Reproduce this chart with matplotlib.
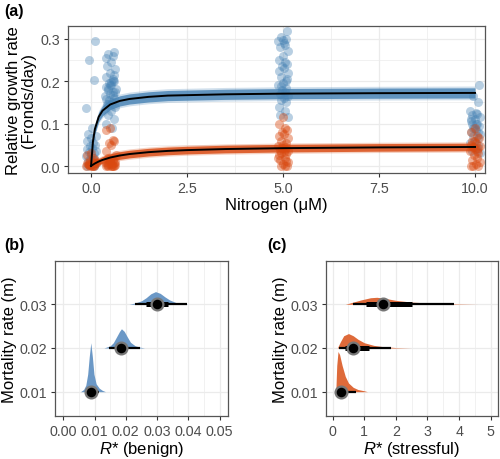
import numpy as np
import matplotlib.pyplot as plt

plt.rcParams['font.family'] = ['Liberation Sans', 'DejaVu Sans']
plt.rcParams['mathtext.fontset'] = 'custom'
plt.rcParams['mathtext.it'] = 'Liberation Sans:italic'
plt.rcParams['mathtext.rm'] = 'Liberation Sans'

# ---------------- data: panel (a) ----------------
nitrogen_levels = [0.0, 0.5, 5.0, 10.0]
jitter = [0.10, -0.05, 0.08, -0.12, 0.02, -0.08, 0.12, 0.0, -0.10, 0.06,
          0.11, -0.03, 0.03, -0.11, 0.14, -0.06, 0.07, 0.0, -0.13, 0.09,
          -0.02, 0.05, -0.09, 0.13, 0.02, -0.05, 0.09, -0.11, 0.04, -0.07,
          0.12, -0.01, 0.06]

blue_y = {
    0.0: [0.295, 0.25, 0.202, 0.137, 0.09, 0.075, 0.07, 0.065, 0.06, 0.055,
          0.05, 0.047, 0.043, 0.04, 0.036, 0.033, 0.03, 0.027, 0.024, 0.02,
          0.017, 0.014, 0.011, 0.008, 0.005, 0.003, 0.001, 0.0],
    0.5: [0.268, 0.265, 0.26, 0.255, 0.245, 0.235, 0.228, 0.22, 0.21, 0.205,
          0.2, 0.195, 0.19, 0.186, 0.182, 0.178, 0.174, 0.17, 0.165, 0.16,
          0.155, 0.15, 0.145, 0.14, 0.13, 0.12, 0.11, 0.1, 0.09, 0.145,
          0.175, 0.19, 0.2, 0.215, 0.185, 0.168, 0.158, 0.198],
    5.0: [0.318, 0.305, 0.3, 0.295, 0.29, 0.28, 0.27, 0.26, 0.25, 0.245,
          0.24, 0.235, 0.23, 0.225, 0.22, 0.21, 0.2, 0.195, 0.19, 0.185,
          0.18, 0.175, 0.17, 0.165, 0.16, 0.155, 0.15, 0.14, 0.13, 0.12,
          0.115, 0.298, 0.285, 0.205, 0.188],
    10.0: [0.19, 0.165, 0.15, 0.13, 0.125, 0.12, 0.115, 0.11, 0.105, 0.1,
           0.095, 0.09, 0.085, 0.08, 0.075, 0.07, 0.065, 0.06, 0.055, 0.05,
           0.045, 0.04, 0.035, 0.03, 0.1, 0.09, 0.08, 0.11, 0.122, 0.098],
}
red_y = {
    0.0: [0.03, 0.025, 0.02, 0.015, 0.012, 0.01, 0.008, 0.006, 0.004, 0.003,
          0.002, 0.001, 0.0, 0.0, 0.0, 0.005, 0.01, 0.0, 0.002, 0.007],
    0.5: [0.09, 0.085, 0.062, 0.058, 0.055, 0.05, 0.035, 0.025, 0.02, 0.015,
          0.012, 0.01, 0.008, 0.006, 0.004, 0.003, 0.002, 0.001, 0.0, 0.0,
          0.0, 0.0, 0.005, 0.01, 0.015, 0.0],
    5.0: [0.115, 0.1, 0.09, 0.085, 0.08, 0.075, 0.07, 0.065, 0.06, 0.055,
          0.05, 0.048, 0.045, 0.042, 0.04, 0.038, 0.035, 0.032, 0.03, 0.028,
          0.025, 0.02, 0.015, 0.01, 0.005, 0.0, 0.0, 0.0, 0.012, 0.02],
    10.0: [0.09, 0.08, 0.07, 0.065, 0.06, 0.055, 0.05, 0.048, 0.045, 0.042,
           0.04, 0.035, 0.03, 0.025, 0.02, 0.015, 0.01, 0.005, 0.0, 0.0,
           0.0, 0.035, 0.06],
}

# fitted curves
curve_x = [0, 0.05, 0.1, 0.2, 0.3, 0.5, 0.75, 1, 1.5, 2, 2.5, 3.5, 5, 7.5, 10]
blue_fit = [0, 0.058, 0.087, 0.116, 0.1305, 0.145, 0.1535, 0.158, 0.163,
            0.166, 0.167, 0.169, 0.1706, 0.1717, 0.1723]
red_fit = [0, 0.0032, 0.006, 0.0107, 0.0144, 0.02, 0.0248, 0.0282, 0.0327,
           0.0356, 0.0375, 0.04, 0.0421, 0.0439, 0.0449]
blue_band = [0.004, 0.008, 0.01, 0.011, 0.012, 0.012, 0.012, 0.012, 0.012,
             0.012, 0.012, 0.012, 0.012, 0.012, 0.012]
red_band = [0.003, 0.005, 0.006, 0.007, 0.008, 0.009, 0.009, 0.009, 0.009,
            0.009, 0.009, 0.009, 0.009, 0.009, 0.009]

# ---------------- data: panels (b) and (c) ----------------
mortality = [0.01, 0.02, 0.03]

benign_x = [
    [0.0055, 0.0065, 0.0072, 0.0078, 0.0083, 0.0088, 0.0093, 0.0098, 0.0105, 0.0115, 0.0125, 0.0135],
    [0.013, 0.015, 0.016, 0.017, 0.018, 0.0186, 0.0195, 0.0205, 0.0215, 0.023, 0.0245, 0.026],
    [0.021, 0.023, 0.025, 0.0265, 0.028, 0.0295, 0.031, 0.0325, 0.034, 0.036, 0.038, 0.040],
]
benign_h = [
    [0, 0.0005, 0.0015, 0.004, 0.008, 0.0112, 0.008, 0.004, 0.0018, 0.0008, 0.0003, 0],
    [0, 0.0005, 0.0012, 0.0025, 0.0038, 0.0044, 0.0038, 0.0025, 0.0013, 0.0005, 0.0002, 0],
    [0, 0.0003, 0.0008, 0.0015, 0.0024, 0.0029, 0.0025, 0.0017, 0.001, 0.0004, 0.0002, 0],
]
benign_med = [0.0088, 0.0186, 0.030]
benign_66 = [[0.0080, 0.0098], [0.0170, 0.0205], [0.0265, 0.0335]]
benign_95 = [[0.0070, 0.0115], [0.0145, 0.0245], [0.0230, 0.0395]]

stress_x = [
    [0.1, 0.13, 0.17, 0.22, 0.3, 0.4, 0.5, 0.65, 0.8, 1.0, 1.1],
    [0.15, 0.25, 0.35, 0.5, 0.65, 0.8, 1.0, 1.3, 1.6, 2.0, 2.5],
    [0.4, 0.6, 0.9, 1.2, 1.4, 1.7, 2.0, 2.5, 3.0, 3.8, 4.6],
]
stress_h = [
    [0, 0.006, 0.0092, 0.0085, 0.006, 0.0035, 0.002, 0.001, 0.0005, 0.0002, 0],
    [0, 0.0015, 0.0028, 0.0033, 0.0028, 0.002, 0.0012, 0.0006, 0.0003, 0.0001, 0],
    [0, 0.0004, 0.001, 0.0015, 0.0016, 0.0013, 0.0009, 0.0005, 0.0003, 0.0001, 0],
]
stress_med = [0.25, 0.65, 1.6]
stress_66 = [[0.15, 0.45], [0.40, 1.15], [1.05, 2.5]]
stress_95 = [[0.12, 0.75], [0.20, 1.85], [0.65, 3.85]]

blue = '#4682b4'
red = '#d9480f'
blue_dens = '#6b98c6'
red_dens = '#de6a3a'
grid_col = '#ebebeb'
tick_col = '#4d4d4d'


def style_axes(ax):
    ax.set_axisbelow(True)
    ax.grid(True, which='major', color=grid_col, lw=0.9)
    ax.grid(True, which='minor', color=grid_col, lw=0.5)
    for s in ax.spines.values():
        s.set_color('#555555')
        s.set_linewidth(0.9)
    ax.tick_params(which='major', colors='#333333', labelcolor=tick_col,
                   labelsize=10.3, length=3, width=0.8, pad=2.5)
    ax.tick_params(which='minor', length=0)


fig = plt.figure(figsize=(5, 4.6), dpi=100)

# ---------------- (a) ----------------
ax1 = fig.add_axes([0.136, 0.6217, 0.834, 0.3196])
for lvl in nitrogen_levels:
    yb = blue_y[lvl]
    xb = [lvl + jitter[i % len(jitter)] for i in range(len(yb))]
    ax1.scatter(xb, yb, s=42, color=blue, alpha=0.38, lw=0, zorder=2)
for lvl in nitrogen_levels:
    yr = red_y[lvl]
    xr = [lvl + jitter[(i + 7) % len(jitter)] for i in range(len(yr))]
    ax1.scatter(xr, yr, s=42, color=red, alpha=0.42, lw=0, zorder=2)

cx = np.array(curve_x)
for fit, band, col in [(blue_fit, blue_band, blue), (red_fit, red_band, red)]:
    f = np.array(fit)
    b = np.array(band)
    ax1.fill_between(cx, f - 1.35 * b, f + 1.35 * b, color=col, alpha=0.25, lw=0, zorder=3)
    ax1.fill_between(cx, f - b, f + b, color=col, alpha=0.8, lw=0, zorder=3)
    ax1.plot(cx, f, color='black', lw=1.4, zorder=4)

ax1.set_xlim(-0.6, 10.26)
ax1.set_ylim(-0.0165, 0.33)
ax1.set_xticks([0, 2.5, 5, 7.5, 10])
ax1.set_xticklabels(['0.0', '2.5', '5.0', '7.5', '10.0'])
ax1.set_xticks([1.25, 3.75, 6.25, 8.75], minor=True)
ax1.set_yticks([0, 0.1, 0.2, 0.3])
ax1.set_yticklabels(['0.0', '0.1', '0.2', '0.3'])
ax1.set_yticks([0.05, 0.15, 0.25], minor=True)
style_axes(ax1)
ax1.set_xlabel('Nitrogen (μM)', fontsize=12, labelpad=1.5)
ax1.set_ylabel('Relative growth rate\n(Fronds/day)', fontsize=12, labelpad=3,
               linespacing=1.0)
fig.text(0.008, 0.975, '(a)', fontsize=11.5, fontweight='bold', va='center')


def ridge(ax, xs, hs, meds, i66, i95, col):
    for k, m in enumerate(mortality):
        ax.fill_between(xs[k], m, m + np.array(hs[k]), color=col, lw=0, zorder=3)
        ax.plot(i95[k], [m, m], color='black', lw=1.6, solid_capstyle='butt', zorder=4)
        ax.plot(i66[k], [m, m], color='black', lw=3.6, solid_capstyle='butt', zorder=4)
        ax.plot(meds[k], m, 'o', color='black', ms=8.5, mec='#777777', mew=1.6, zorder=5)


# ---------------- (b) ----------------
ax2 = fig.add_axes([0.11, 0.0935, 0.346, 0.3369])
ridge(ax2, benign_x, benign_h, benign_med, benign_66, benign_95, blue_dens)
ax2.set_xlim(-0.00266, 0.0527)
ax2.set_ylim(0.00444, 0.0399)
ax2.set_xticks([0, 0.01, 0.02, 0.03, 0.04, 0.05])
ax2.set_xticklabels(['0.00', '0.01', '0.02', '0.03', '0.04', '0.05'])
ax2.set_xticks([0.005, 0.015, 0.025, 0.035, 0.045], minor=True)
ax2.set_yticks(mortality)
ax2.set_yticklabels(['0.01', '0.02', '0.03'])
style_axes(ax2)
ax2.set_xlabel('$R$* (benign)', fontsize=12, labelpad=1)
ax2.set_ylabel('Mortality rate (m)', fontsize=12, labelpad=2)
fig.text(0.008, 0.467, '(b)', fontsize=11.5, fontweight='bold', va='center')

# ---------------- (c) ----------------
ax3 = fig.add_axes([0.652, 0.0935, 0.344, 0.3369])
ridge(ax3, stress_x, stress_h, stress_med, stress_66, stress_95, red_dens)
ax3.set_xlim(-0.21, 5.23)
ax3.set_ylim(0.00444, 0.0399)
ax3.set_xticks([0, 1, 2, 3, 4, 5])
ax3.set_xticks([0.5, 1.5, 2.5, 3.5, 4.5], minor=True)
ax3.set_yticks(mortality)
ax3.set_yticklabels(['0.01', '0.02', '0.03'])
style_axes(ax3)
ax3.set_xlabel('$R$* (stressful)', fontsize=12, labelpad=1)
ax3.set_ylabel('Mortality rate (m)', fontsize=12, labelpad=2)
fig.text(0.535, 0.467, '(c)', fontsize=11.5, fontweight='bold', va='center')

fig.savefig('out.png', dpi=100)
